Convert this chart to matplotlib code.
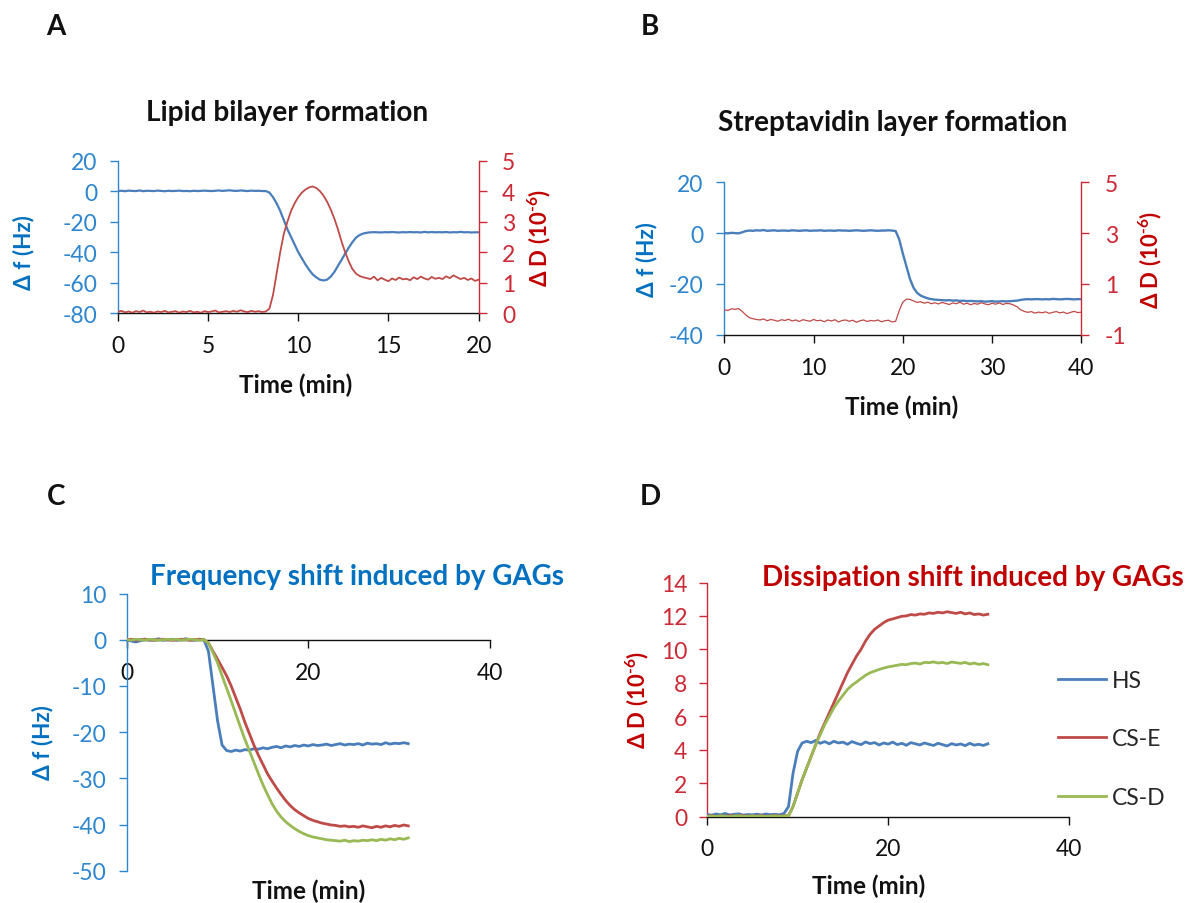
import numpy as np
import matplotlib
matplotlib.use("Agg")
import matplotlib.pyplot as plt
from matplotlib.lines import Line2D

plt.rcParams['font.family'] = ['Lato', 'DejaVu Sans']
plt.rcParams['axes.unicode_minus'] = False
plt.rcParams['mathtext.fontset'] = 'custom'
plt.rcParams['mathtext.rm'] = 'Lato:bold'
plt.rcParams['mathtext.bf'] = 'Lato:bold'

# ---------------- data ----------------
# Panel A: lipid bilayer formation (t = 0..20 min, 0.2 min step)
a_t_start, a_t_end = 0.0, 20.0
a_freq = [
    0.0, 0.2, -0.1, 0.3, 0.1, 0.0, 0.4, -0.1, 0.2, 0.1,
    0.0, 0.3, 0.1, -0.1, 0.2, 0.0, 0.1, 0.3, 0.0, 0.1,
    -0.1, 0.2, 0.0, 0.1, 0.3, 0.1, 0.0, 0.2, 0.4, 0.1,
    0.3, 0.5, 0.2, 0.1, 0.4, 0.2, 0.0, 0.3, 0.1, 0.2,
    0.0, 0.0, -1.0, -4.0, -8.0, -13.0, -19.0, -25.0, -30.0, -35.0,
    -40.0, -44.0, -48.0, -51.5, -54.5, -56.5, -58.0, -58.5, -58.0, -56.0,
    -53.0, -49.0, -45.0, -41.0, -37.0, -33.5, -30.5, -28.8, -27.8, -27.3,
    -27.0, -26.9, -27.0, -27.1, -26.9, -27.0, -26.8, -27.0, -27.1, -26.9,
    -27.0, -26.8, -27.0, -26.9, -27.1, -26.7, -27.0, -26.8, -27.0, -26.9,
    -27.0, -26.8, -27.1, -26.9, -27.0, -26.7, -27.0, -26.9, -27.1, -27.0,
    -27.0]
a_diss = [
    0.05, 0.08, 0.03, 0.06, 0.02, 0.07, 0.04, 0.09, 0.03, 0.05,
    0.02, 0.06, 0.04, 0.08, 0.03, 0.05, 0.07, 0.02, 0.06, 0.04,
    0.08, 0.03, 0.05, 0.02, 0.07, 0.04, 0.06, 0.09, 0.03, 0.05,
    0.07, 0.04, 0.08, 0.05, 0.10, 0.06, 0.04, 0.08, 0.05, 0.07,
    0.04, 0.06, 0.15, 0.60, 1.30, 2.00, 2.60, 3.00, 3.35, 3.60,
    3.80, 3.95, 4.05, 4.12, 4.15, 4.10, 4.00, 3.85, 3.65, 3.40,
    3.10, 2.75, 2.35, 2.00, 1.70, 1.45, 1.30, 1.22, 1.18, 1.15,
    1.12, 1.20, 1.08, 1.16, 1.10, 1.05, 1.14, 1.09, 1.17, 1.11,
    1.13, 1.08, 1.18, 1.12, 1.20, 1.14, 1.10, 1.19, 1.13, 1.16,
    1.12, 1.21, 1.15, 1.24, 1.18, 1.12, 1.16, 1.09, 1.14, 1.06,
    1.10]

# Panel B: streptavidin layer formation (t = 0..40 min, 0.4 min step)
b_t_start, b_t_end = 0.0, 40.0
b_freq = [
    0.0, -0.1, 0.1, 0.0, -0.1, 0.3, 0.8, 1.0, 0.9, 1.1,
    1.0, 1.2, 0.9, 1.0, 1.1, 0.9, 1.0, 1.0, 0.9, 1.1,
    1.0, 0.9, 1.0, 1.1, 0.9, 1.0, 1.0, 1.1, 0.9, 1.0,
    1.0, 0.9, 1.1, 1.0, 1.0, 0.9, 1.0, 1.1, 1.0, 0.9,
    1.0, 1.1, 1.0, 0.9, 1.0, 1.0, 1.1, 1.0, 0.8, -2.5,
    -8.0, -13.0, -18.0, -21.5, -23.5, -24.6, -25.2, -25.7, -26.0, -26.2,
    -26.3, -26.4, -26.5, -26.4, -26.6, -26.5, -26.7, -26.6, -26.8, -26.7,
    -26.8, -26.9, -26.8, -27.0, -26.9, -26.8, -27.0, -26.9, -26.8, -26.9,
    -26.8, -26.7, -26.6, -26.3, -26.1, -26.0, -26.1, -26.0, -26.0, -26.1,
    -26.0, -26.1, -25.9, -26.0, -26.1, -26.0, -25.9, -26.0, -26.1, -26.0,
    -26.0]
b_diss = [
    -0.02, -0.05, 0.02, 0.00, 0.03, -0.08, -0.22, -0.33, -0.37, -0.40,
    -0.42, -0.38, -0.45, -0.40, -0.43, -0.47, -0.41, -0.44, -0.39, -0.46,
    -0.42, -0.48, -0.41, -0.44, -0.47, -0.40, -0.45, -0.43, -0.49, -0.42,
    -0.46, -0.41, -0.50, -0.44, -0.42, -0.47, -0.43, -0.51, -0.45, -0.42,
    -0.48, -0.44, -0.46, -0.42, -0.49, -0.45, -0.43, -0.50, -0.47, -0.05,
    0.28, 0.40, 0.39, 0.33, 0.27, 0.30, 0.24, 0.28, 0.22, 0.26,
    0.21, 0.27, 0.23, 0.19, 0.25, 0.22, 0.28, 0.20, 0.24, 0.18,
    0.23, 0.20, 0.26, 0.21, 0.18, 0.24, 0.20, 0.25, 0.19, 0.23,
    0.22, 0.17, 0.10, -0.02, -0.08, -0.12, -0.09, -0.15, -0.11, -0.14,
    -0.10, -0.16, -0.12, -0.09, -0.14, -0.11, -0.17, -0.12, -0.08, -0.13,
    -0.11]

# Panels C and D: GAG binding (t = 0..31 min, 0.5 min step)
cd_t_start, cd_t_end = 0.0, 31.0
series_names = ['HS', 'CS-E', 'CS-D']
c_freq_hs = [
    0.0, -0.3, -0.5, -0.2, 0.1, -0.1, 0.0, 0.2, -0.1, 0.0,
    0.1, -0.1, 0.0, 0.2, 0.0, -0.1, 0.1, 0.0, -2.5, -10.0,
    -17.5, -22.8, -24.0, -24.2, -23.9, -24.1, -23.8, -23.9, -23.6, -23.7,
    -23.4, -23.6, -23.3, -23.1, -23.4, -23.0, -23.2, -22.9, -23.1, -22.8,
    -23.0, -22.7, -22.9, -22.8, -22.6, -22.9, -22.7, -22.5, -22.8, -22.6,
    -22.7, -22.5, -22.8, -22.4, -22.6, -22.5, -22.7, -22.3, -22.6, -22.4,
    -22.5, -22.3, -22.5]
c_freq_cse = [
    0.0, 0.1, -0.1, 0.0, 0.1, 0.0, -0.1, 0.0, 0.1, 0.0,
    -0.1, 0.0, 0.1, 0.0, -0.1, 0.0, 0.1, 0.0, -0.7, -2.5,
    -4.2, -6.0, -7.8, -10.0, -12.5, -15.0, -17.8, -20.3, -22.8, -25.0,
    -27.0, -29.0, -30.6, -32.1, -33.5, -34.8, -35.9, -36.8, -37.5, -38.1,
    -38.7, -39.1, -39.4, -39.7, -39.9, -40.1, -40.2, -40.4, -40.3, -40.5,
    -40.4, -40.6, -40.3, -40.5, -40.7, -40.4, -40.6, -40.3, -40.5, -40.2,
    -40.4, -40.1, -40.3]
c_freq_csd = [
    0.0, -0.1, 0.1, 0.0, -0.1, 0.1, 0.0, -0.1, 0.0, 0.1,
    0.0, 0.1, -0.1, 0.0, 0.1, 0.0, -0.1, 0.0, -0.7, -2.8,
    -5.0, -7.8, -10.5, -13.2, -16.0, -18.8, -21.5, -24.0, -26.5, -29.0,
    -31.4, -33.5, -35.5, -37.1, -38.4, -39.4, -40.2, -40.9, -41.5, -42.0,
    -42.4, -42.7, -42.9, -43.1, -43.3, -43.4, -43.5, -43.6, -43.4, -43.7,
    -43.5, -43.6, -43.4, -43.5, -43.3, -43.5, -43.2, -43.4, -43.1, -43.3,
    -43.0, -43.2, -42.9]
d_diss_hs = [
    0.12, 0.08, 0.15, 0.10, 0.18, 0.09, 0.13, 0.16, 0.08, 0.12,
    0.10, 0.14, 0.09, 0.15, 0.11, 0.13, 0.10, 0.18, 0.60, 2.60,
    3.90, 4.40, 4.50, 4.42, 4.55, 4.38, 4.48, 4.35, 4.50, 4.40,
    4.45, 4.32, 4.48, 4.38, 4.30, 4.46, 4.36, 4.42, 4.28, 4.40,
    4.33, 4.45, 4.30, 4.38, 4.26, 4.42, 4.35, 4.28, 4.40, 4.32,
    4.25, 4.38, 4.30, 4.22, 4.36, 4.28, 4.34, 4.24, 4.38, 4.27,
    4.32, 4.25, 4.35]
d_diss_cse = [
    0.02, 0.05, 0.00, 0.04, 0.01, 0.06, 0.02, 0.03, 0.05, 0.01,
    0.04, 0.02, 0.06, 0.01, 0.03, 0.05, 0.02, 0.04, 0.05, 0.60,
    1.40, 2.20, 2.90, 3.60, 4.30, 5.00, 5.60, 6.20, 6.80, 7.40,
    8.00, 8.60, 9.10, 9.60, 10.00, 10.50, 10.90, 11.20, 11.40, 11.60,
    11.75, 11.82, 11.90, 11.98, 12.00, 12.08, 12.05, 12.12, 12.10, 12.18,
    12.15, 12.22, 12.18, 12.25, 12.20, 12.15, 12.22, 12.12, 12.18, 12.08,
    12.12, 12.05, 12.10]
d_diss_csd = [
    0.00, 0.03, 0.01, 0.04, 0.02, 0.00, 0.03, 0.05, 0.01, 0.02,
    0.04, 0.01, 0.03, 0.00, 0.02, 0.04, 0.01, 0.03, 0.05, 0.60,
    1.40, 2.20, 2.90, 3.60, 4.30, 4.90, 5.50, 6.00, 6.50, 6.90,
    7.25, 7.60, 7.85, 8.05, 8.25, 8.45, 8.60, 8.70, 8.80, 8.88,
    8.95, 9.00, 9.05, 9.10, 9.08, 9.15, 9.18, 9.12, 9.22, 9.20,
    9.25, 9.18, 9.22, 9.15, 9.24, 9.20, 9.16, 9.22, 9.12, 9.18,
    9.10, 9.15, 9.08]

a_xticks = [0, 5, 10, 15, 20]
a_yticks_f = [-80, -60, -40, -20, 0, 20]
a_yticks_d = [0, 1, 2, 3, 4, 5]
b_xticks = [0, 10, 20, 30, 40]
b_yticks_f = [-40, -20, 0, 20]
b_yticks_d = [-1, 1, 3, 5]
cd_xticks = [0, 20, 40]
c_yticks = [-50, -40, -30, -20, -10, 0, 10]
d_yticks = [0, 2, 4, 6, 8, 10, 12, 14]

# ---------------- style ----------------
BLUE_L, RED_L, GREEN_L = '#4A7EBB', '#BE4B48', '#98B954'
BLUE_AX, BLUE_TX = '#2E86CF', '#0070C0'
RED_AX, RED_TX = '#CC2A36', '#C00000'
BLACK = '#111111'
TICK_FS = 16.5
LBL_FS = 18

W, H = 1185, 904
fig = plt.figure(figsize=(W / 100, H / 100), dpi=100)


def box(l, r, t, b):
    return [l / W, 1 - b / H, (r - l) / W, (b - t) / H]


def ftext(x, y, s, **kw):
    return fig.text(x / W, 1 - y / H, s, **kw)


def fit_size(txt, target, dim='width'):
    r = fig.canvas.get_renderer()
    for _ in range(3):
        bb = txt.get_window_extent(r)
        cur = bb.width if dim == 'width' else bb.height
        txt.set_fontsize(txt.get_fontsize() * target / cur)


def style_x(ax, pad):
    ax.tick_params(axis='x', direction='out', length=5.8, width=1.0,
                   colors=BLACK, labelsize=TICK_FS, pad=pad)
    ax.spines['bottom'].set_color(BLACK)
    ax.spines['bottom'].set_linewidth(1.0)


def style_y(ax, side, color, pad):
    ax.tick_params(axis='y', which='both', direction='out', length=5.8, width=1.0,
                   colors=color, labelsize=TICK_FS, pad=pad)
    ax.spines[side].set_color(color)
    ax.spines[side].set_linewidth(1.0)


# ---------------- Panel A ----------------
ta = np.linspace(a_t_start, a_t_end, len(a_freq))
axA = fig.add_axes(box(117.9, 478.6, 161.5, 314.3))
axA.plot(ta, a_freq, color=BLUE_L, lw=1.6, zorder=3)
axA.set_xlim(0, 20)
axA.set_ylim(-80, 20)
axA.set_xticks(a_xticks)
axA.set_yticks(a_yticks_f)
for s in ['top', 'right']:
    axA.spines[s].set_visible(False)
style_x(axA, 10)
style_y(axA, 'left', BLUE_AX, 9)
axA2 = axA.twinx()
axA2.plot(np.linspace(a_t_start, a_t_end, len(a_diss)), a_diss, color=RED_L, lw=1.3)
axA2.set_ylim(0, 5)
axA2.set_yticks(a_yticks_d)
for s in ['top', 'left', 'bottom']:
    axA2.spines[s].set_visible(False)
style_y(axA2, 'right', RED_AX, 11)

# ---------------- Panel B ----------------
tb = np.linspace(b_t_start, b_t_end, len(b_freq))
axB = fig.add_axes(box(724.3, 1081.3, 183.3, 335.7))
axB.plot(tb, b_freq, color=BLUE_L, lw=1.7, zorder=3)
axB.set_xlim(0, 40)
axB.set_ylim(-40, 20)
axB.set_xticks(b_xticks)
axB.set_yticks(b_yticks_f)
for s in ['top', 'right']:
    axB.spines[s].set_visible(False)
style_x(axB, 10)
style_y(axB, 'left', BLUE_AX, 9)
axB2 = axB.twinx()
axB2.plot(np.linspace(b_t_start, b_t_end, len(b_diss)), b_diss, color=RED_L, lw=0.9)
axB2.set_ylim(-1, 5)
axB2.set_yticks(b_yticks_d)
for s in ['top', 'left', 'bottom']:
    axB2.spines[s].set_visible(False)
style_y(axB2, 'right', RED_AX, 11)

# ---------------- Panel C ----------------
tc = np.linspace(cd_t_start, cd_t_end, len(c_freq_hs))
axC = fig.add_axes(box(126.7, 490.0, 594.5, 871.7))
for vals, col in zip([c_freq_hs, c_freq_cse, c_freq_csd], [BLUE_L, RED_L, GREEN_L]):
    axC.plot(tc, vals, color=col, lw=2.0, zorder=3)
axC.set_xlim(0, 40)
axC.set_ylim(-50, 10)
axC.set_xticks(cd_xticks)
axC.set_yticks(c_yticks)
axC.spines['bottom'].set_position(('data', 0))
for s in ['top', 'right']:
    axC.spines[s].set_visible(False)
style_x(axC, 10)
style_y(axC, 'left', BLUE_AX, 8.5)

# ---------------- Panel D ----------------
td = np.linspace(cd_t_start, cd_t_end, len(d_diss_hs))
axD = fig.add_axes(box(707.0, 1069.4, 583.5, 817.5))
handles = []
for vals, col in zip([d_diss_hs, d_diss_cse, d_diss_csd], [BLUE_L, RED_L, GREEN_L]):
    h, = axD.plot(td, vals, color=col, lw=2.0, zorder=3)
    handles.append(h)
axD.set_xlim(0, 40)
axD.set_ylim(0, 14)
axD.set_xticks(cd_xticks)
axD.set_yticks(d_yticks)
for s in ['top', 'right']:
    axD.spines[s].set_visible(False)
style_x(axD, 10)
style_y(axD, 'left', RED_AX, 8.5)
leg_handles = [Line2D([], [], color=h.get_color(), lw=2.0) for h in handles]
leg = fig.legend(leg_handles, series_names, loc='center left',
                 bbox_to_anchor=(1058 / W, 1 - 740 / H), frameon=False,
                 fontsize=TICK_FS, handlelength=2.1, handletextpad=0.25,
                 labelspacing=1.62, borderpad=0, borderaxespad=0)
for t in leg.get_texts():
    t.set_color('#262626')

# ---------------- texts ----------------
for x, y, s in [(56, 27, 'A'), (650, 27, 'B'), (56, 497, 'C'), (650, 497, 'D')]:
    ftext(x, y, s, fontsize=20, fontweight='bold', ha='center', va='center', color=BLACK)

tA = ftext(287.5, 113, 'Lipid bilayer formation', fontsize=17, fontweight='bold',
           ha='center', va='center', color=BLACK)
tB = ftext(893, 123, 'Streptavidin layer formation', fontsize=17, fontweight='bold',
           ha='center', va='center', color=BLACK)
tC = ftext(150, 577, 'Frequency shift induced by GAGs', fontsize=18, fontweight='bold',
           ha='left', va='center', color=BLUE_TX)
tD = ftext(762, 578, 'Dissipation shift induced by GAGs', fontsize=18, fontweight='bold',
           ha='left', va='center', color=RED_TX)
fit_size(tA, 282)
fit_size(tB, 351)
fit_size(tC, 412)
tD.set_fontsize(tC.get_fontsize())

for x, y in [(296, 385), (902, 407), (309, 891.7), (868.7, 886.7)]:
    t = ftext(x, y, 'Time (min)', fontsize=LBL_FS, fontweight='bold',
              ha='center', va='center', color=BLACK)
    fit_size(t, 113)

F_LBL = 'Δ f (Hz)'
D_LBL = r'Δ D (10$^{\text{-}6}$)'
for x, y in [(24, 253), (646.6, 260), (43, 743)]:
    t = ftext(x, y, F_LBL, fontsize=LBL_FS, fontweight='bold', rotation=90,
              ha='center', va='center', color=BLUE_TX)
    fit_size(t, 75, 'height')
for x, y in [(539, 238), (1150, 260), (637.3, 700)]:
    t = ftext(x, y, D_LBL, fontsize=LBL_FS, fontweight='bold', rotation=90,
              ha='center', va='center', color=RED_TX)
    fit_size(t, 98, 'height')

fig.savefig('out.png', dpi=100)
